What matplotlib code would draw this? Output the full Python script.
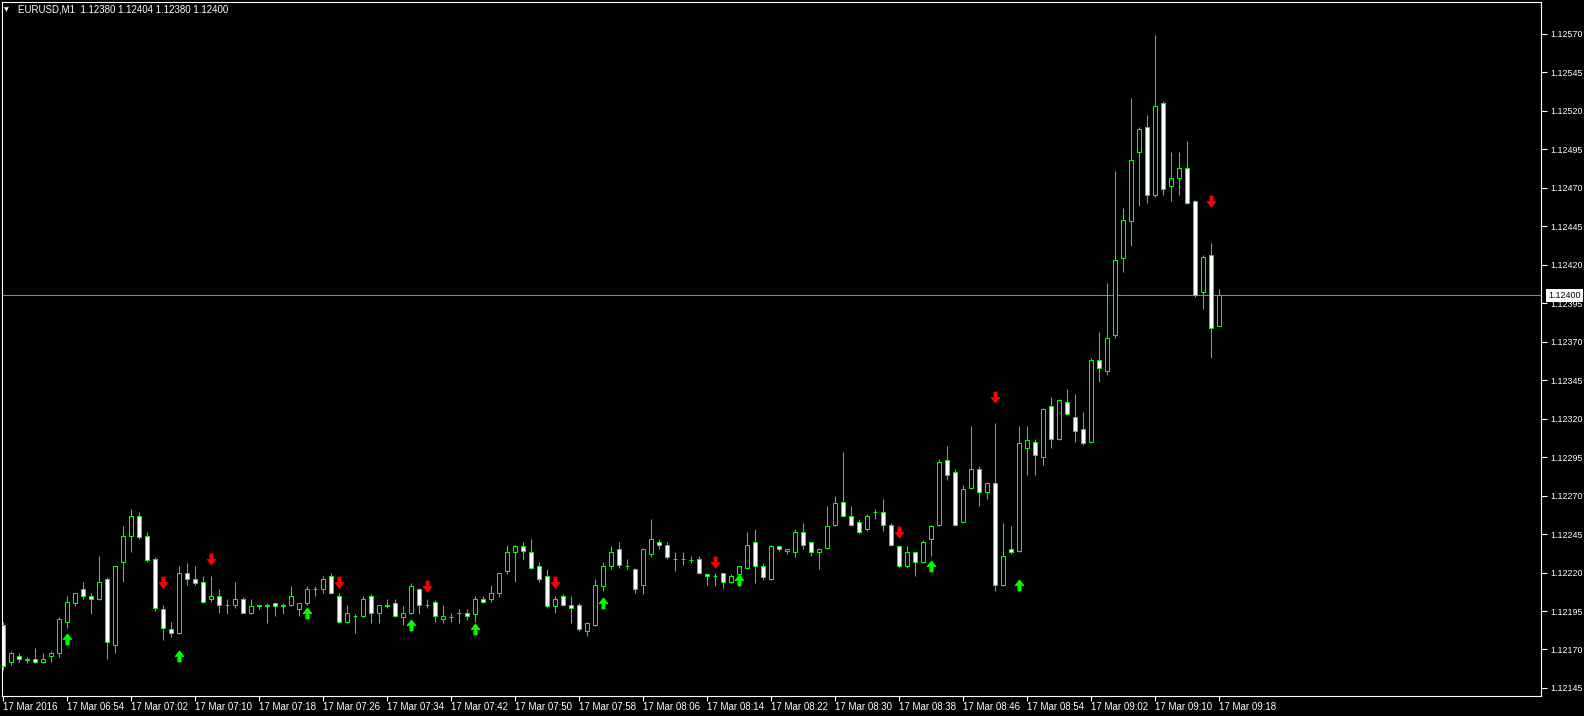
import matplotlib
matplotlib.use("Agg")
import matplotlib.pyplot as plt
import matplotlib.transforms as mtransforms
from matplotlib.patches import Rectangle
from matplotlib.path import Path
from matplotlib.ticker import FormatStrFormatter

plt.rcParams['font.family'] = ['Liberation Sans', 'DejaVu Sans']

# EURUSD M1, 17 Mar 2016 06:46 .. 09:18 (one bar per minute)
opens = [
    1.12186, 1.12162, 1.12166, 1.12163, 1.12164, 1.12162, 1.12166, 1.12168, 1.12188, 1.12200,
    1.12209, 1.12205, 1.12203, 1.12216, 1.12173, 1.12227, 1.12244, 1.12257, 1.12244, 1.12229,
    1.12196, 1.12183, 1.12181, 1.12220, 1.12216, 1.12214, 1.12203, 1.12205, 1.12199, 1.12199,
    1.12203, 1.12194, 1.12199, 1.12198, 1.12200, 1.12198, 1.12199, 1.12196, 1.12200, 1.12209,
    1.12209, 1.12218, 1.12205, 1.12188, 1.12192, 1.12192, 1.12205, 1.12194, 1.12198, 1.12200,
    1.12191, 1.12194, 1.12209, 1.12199, 1.12201, 1.12190, 1.12191, 1.12194, 1.12194, 1.12193,
    1.12203, 1.12203, 1.12207, 1.12221, 1.12233, 1.12237, 1.12233, 1.12224, 1.12218, 1.12198,
    1.12205, 1.12199, 1.12199, 1.12182, 1.12186, 1.12211, 1.12224, 1.12235, 1.12224, 1.12222,
    1.12212, 1.12232, 1.12240, 1.12238, 1.12229, 1.12229, 1.12228, 1.12229, 1.12219, 1.12218,
    1.12220, 1.12214, 1.12219, 1.12223, 1.12240, 1.12224, 1.12216, 1.12237, 1.12234, 1.12233,
    1.12246, 1.12240, 1.12233, 1.12236, 1.12251, 1.12266, 1.12257, 1.12253, 1.12248, 1.12259,
    1.12259, 1.12251, 1.12237, 1.12224, 1.12233, 1.12227, 1.12242, 1.12251, 1.12293, 1.12285,
    1.12253, 1.12275, 1.12287, 1.12272, 1.12278, 1.12212, 1.12235, 1.12234, 1.12301, 1.12305,
    1.12295, 1.12328, 1.12307, 1.12331, 1.12321, 1.12313, 1.12305, 1.12358, 1.12351, 1.12374,
    1.12424, 1.12448, 1.12493, 1.12509, 1.12465, 1.12525, 1.12471, 1.12476, 1.12483, 1.12461,
    1.12402, 1.12426, 1.12380,
]
highs = [
    1.12188, 1.12169, 1.12168, 1.12165, 1.12171, 1.12168, 1.12169, 1.12191, 1.12205, 1.12207,
    1.12214, 1.12207, 1.12231, 1.12217, 1.12224, 1.12250, 1.12261, 1.12259, 1.12246, 1.12230,
    1.12199, 1.12188, 1.12224, 1.12226, 1.12224, 1.12218, 1.12218, 1.12209, 1.12203, 1.12214,
    1.12204, 1.12203, 1.12199, 1.12200, 1.12200, 1.12200, 1.12211, 1.12200, 1.12211, 1.12211,
    1.12218, 1.12220, 1.12207, 1.12199, 1.12193, 1.12205, 1.12206, 1.12199, 1.12203, 1.12203,
    1.12198, 1.12213, 1.12210, 1.12203, 1.12202, 1.12199, 1.12194, 1.12196, 1.12196, 1.12205,
    1.12205, 1.12212, 1.12220, 1.12238, 1.12238, 1.12240, 1.12242, 1.12227, 1.12222, 1.12205,
    1.12206, 1.12205, 1.12200, 1.12188, 1.12216, 1.12227, 1.12237, 1.12240, 1.12229, 1.12223,
    1.12236, 1.12255, 1.12242, 1.12240, 1.12233, 1.12233, 1.12231, 1.12231, 1.12220, 1.12220,
    1.12220, 1.12219, 1.12224, 1.12246, 1.12248, 1.12226, 1.12238, 1.12237, 1.12235, 1.12248,
    1.12252, 1.12240, 1.12236, 1.12263, 1.12270, 1.12298, 1.12263, 1.12255, 1.12258, 1.12261,
    1.12268, 1.12252, 1.12238, 1.12237, 1.12234, 1.12241, 1.12251, 1.12294, 1.12302, 1.12287,
    1.12277, 1.12315, 1.12289, 1.12279, 1.12317, 1.12252, 1.12250, 1.12315, 1.12315, 1.12307,
    1.12327, 1.12334, 1.12333, 1.12339, 1.12336, 1.12324, 1.12359, 1.12376, 1.12408, 1.12481,
    1.12457, 1.12528, 1.12509, 1.12517, 1.12569, 1.12526, 1.12493, 1.12493, 1.12500, 1.12462,
    1.12426, 1.12434, 1.12404,
]
lows = [
    1.12157, 1.12160, 1.12162, 1.12161, 1.12161, 1.12161, 1.12162, 1.12165, 1.12184, 1.12198,
    1.12203, 1.12193, 1.12202, 1.12164, 1.12168, 1.12214, 1.12233, 1.12242, 1.12227, 1.12195,
    1.12176, 1.12178, 1.12180, 1.12212, 1.12212, 1.12200, 1.12201, 1.12194, 1.12193, 1.12197,
    1.12194, 1.12193, 1.12196, 1.12187, 1.12192, 1.12193, 1.12198, 1.12192, 1.12199, 1.12205,
    1.12207, 1.12206, 1.12187, 1.12187, 1.12181, 1.12191, 1.12187, 1.12187, 1.12197, 1.12191,
    1.12186, 1.12193, 1.12193, 1.12197, 1.12188, 1.12187, 1.12188, 1.12187, 1.12189, 1.12188,
    1.12200, 1.12201, 1.12204, 1.12219, 1.12214, 1.12229, 1.12222, 1.12214, 1.12197, 1.12194,
    1.12198, 1.12187, 1.12182, 1.12179, 1.12185, 1.12208, 1.12222, 1.12223, 1.12222, 1.12207,
    1.12206, 1.12230, 1.12235, 1.12229, 1.12221, 1.12225, 1.12226, 1.12219, 1.12212, 1.12211,
    1.12210, 1.12213, 1.12218, 1.12222, 1.12213, 1.12215, 1.12215, 1.12234, 1.12232, 1.12230,
    1.12235, 1.12231, 1.12222, 1.12235, 1.12250, 1.12256, 1.12250, 1.12245, 1.12247, 1.12255,
    1.12247, 1.12237, 1.12223, 1.12223, 1.12218, 1.12226, 1.12231, 1.12250, 1.12280, 1.12250,
    1.12252, 1.12274, 1.12263, 1.12268, 1.12208, 1.12211, 1.12232, 1.12233, 1.12283, 1.12283,
    1.12290, 1.12301, 1.12306, 1.12322, 1.12305, 1.12303, 1.12304, 1.12344, 1.12348, 1.12372,
    1.12415, 1.12432, 1.12458, 1.12460, 1.12464, 1.12465, 1.12461, 1.12465, 1.12459, 1.12399,
    1.12391, 1.12359, 1.12380,
]
closes = [
    1.12159, 1.12168, 1.12164, 1.12164, 1.12162, 1.12164, 1.12168, 1.12190, 1.12201, 1.12207,
    1.12205, 1.12203, 1.12214, 1.12175, 1.12224, 1.12244, 1.12257, 1.12243, 1.12228, 1.12197,
    1.12184, 1.12181, 1.12220, 1.12216, 1.12213, 1.12201, 1.12205, 1.12199, 1.12199, 1.12203,
    1.12194, 1.12198, 1.12198, 1.12199, 1.12198, 1.12199, 1.12205, 1.12200, 1.12209, 1.12209,
    1.12216, 1.12207, 1.12188, 1.12194, 1.12192, 1.12203, 1.12194, 1.12199, 1.12199, 1.12192,
    1.12194, 1.12211, 1.12199, 1.12199, 1.12192, 1.12192, 1.12191, 1.12194, 1.12192, 1.12203,
    1.12201, 1.12207, 1.12220, 1.12233, 1.12237, 1.12234, 1.12223, 1.12216, 1.12198, 1.12203,
    1.12199, 1.12197, 1.12183, 1.12187, 1.12212, 1.12224, 1.12233, 1.12225, 1.12224, 1.12209,
    1.12235, 1.12242, 1.12238, 1.12230, 1.12229, 1.12229, 1.12228, 1.12220, 1.12218, 1.12218,
    1.12214, 1.12218, 1.12224, 1.12238, 1.12224, 1.12217, 1.12237, 1.12235, 1.12235, 1.12246,
    1.12238, 1.12233, 1.12235, 1.12250, 1.12265, 1.12257, 1.12251, 1.12246, 1.12257, 1.12259,
    1.12251, 1.12238, 1.12224, 1.12233, 1.12227, 1.12240, 1.12250, 1.12292, 1.12283, 1.12251,
    1.12274, 1.12287, 1.12272, 1.12278, 1.12212, 1.12231, 1.12233, 1.12304, 1.12306, 1.12296,
    1.12326, 1.12307, 1.12332, 1.12323, 1.12312, 1.12304, 1.12358, 1.12353, 1.12372, 1.12423,
    1.12449, 1.12488, 1.12508, 1.12465, 1.12523, 1.12469, 1.12476, 1.12483, 1.12460, 1.12400,
    1.12425, 1.12379, 1.12400,
]

# signal arrows (bar index, price)
sell_bars = [20, 26, 42, 53, 69, 89, 112, 124, 151]
sell_prices = [1.12214, 1.12229, 1.12214, 1.12211, 1.12214, 1.12227, 1.12246, 1.12334, 1.12461]
buy_bars = [8, 22, 38, 51, 59, 75, 92, 116, 127]
buy_prices = [1.12177, 1.12166, 1.12194, 1.12186, 1.12183, 1.12200, 1.12215, 1.12224, 1.12212]

time_labels = ["17 Mar 2016", "17 Mar 06:54", "17 Mar 07:02", "17 Mar 07:10", "17 Mar 07:18",
               "17 Mar 07:26", "17 Mar 07:34", "17 Mar 07:42", "17 Mar 07:50", "17 Mar 07:58",
               "17 Mar 08:06", "17 Mar 08:14", "17 Mar 08:22", "17 Mar 08:30", "17 Mar 08:38",
               "17 Mar 08:46", "17 Mar 08:54", "17 Mar 09:02", "17 Mar 09:10", "17 Mar 09:18"]
price_ticks = [1.12145, 1.12170, 1.12195, 1.12220, 1.12245, 1.12270, 1.12295, 1.12320,
               1.12345, 1.12370, 1.12395, 1.12420, 1.12445, 1.12470, 1.12495, 1.12520,
               1.12545, 1.12570]
bid = 1.12400
title = "EURUSD,M1  1.12380 1.12404 1.12380 1.12400"

GREEN = '#00ff00'
W, H = 1584, 716
fig = plt.figure(figsize=(W / 100, H / 100), dpi=100, facecolor='black')
ax = fig.add_axes([2 / W, 20 / H, 1539 / W, 694 / H])
ax.set_facecolor('black')

n = len(opens)
xs = list(range(n))

# wicks then bodies
ax.vlines(xs, lows, highs, color=GREEN, lw=0.75, zorder=2)
for i in xs:
    o, c = opens[i], closes[i]
    fill = 'white' if c < o else 'black'
    ax.add_patch(Rectangle((i - 0.25, min(o, c)), 0.5, abs(c - o),
                           facecolor=fill, edgecolor=GREEN, lw=0.75, zorder=3))

# arrow markers
up_verts = [(0, 0.5), (0.38, 0.0), (0.13, 0.1), (0.13, -0.5), (-0.13, -0.5),
            (-0.13, 0.1), (-0.38, 0.0), (0, 0.5)]
up_arrow = Path(up_verts, closed=True)
down_arrow = Path([(x, -y) for x, y in up_verts], closed=True)
ax.plot(buy_bars, buy_prices, ls='none', marker=up_arrow, ms=7.5, color=GREEN,
        mec=GREEN, zorder=4)
ax.plot(sell_bars, sell_prices, ls='none', marker=down_arrow, ms=7.5, color='red',
        mec='red', zorder=4)

# bid line
ax.axhline(bid, color='#778899', lw=0.75, zorder=1)

ax.set_xlim(-0.125, 192.25)
ax.set_ylim(1.121398, 1.125905)

for s in ax.spines.values():
    s.set_color('white')
    s.set_linewidth(0.8)

ax.yaxis.tick_right()
ax.set_yticks(price_ticks)
ax.yaxis.set_major_formatter(FormatStrFormatter('%.5f'))
ax.set_xticks(list(range(0, n, 8)))
ax.set_xticklabels(time_labels, ha='left')
ax.tick_params(colors='white', length=4, width=0.8, direction='out')
ax.tick_params(axis='y', pad=3, labelsize=6.4)
ax.tick_params(axis='x', pad=0.5, labelsize=7, length=3.5)
for lab in ax.get_xticklabels():
    lab.set_horizontalalignment('left')

# bid price box on the scale
trans = mtransforms.blended_transform_factory(ax.transAxes, ax.transData)
ax.text(1.0 + 7 / 1539, bid, "1.12400", transform=trans, color='black', fontsize=6.4,
        va='center', ha='left', zorder=10, clip_on=False,
        bbox=dict(boxstyle='square,pad=0.25', fc='white', ec='none'))

# header
fig.text(6 / W, 1 - 10 / H, "\u25bc", color='white', fontsize=4.5, va='center', ha='center',
         family='DejaVu Sans')
fig.text(18 / W, 1 - 10 / H, title, color='white', fontsize=7, va='center', ha='left')

fig.savefig('out.png', dpi=100, facecolor='black')
